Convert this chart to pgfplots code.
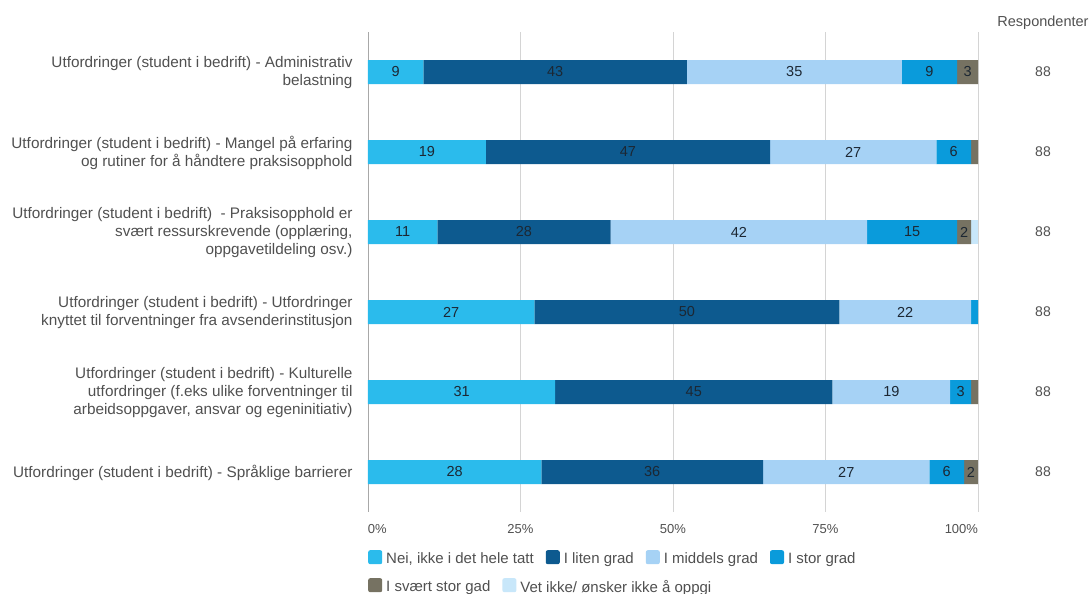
\documentclass[border=0pt]{standalone}
\usepackage{fontspec}
\setmainfont{Liberation Sans}
\usepackage{pgfplots}
\usepackage{pgfplotstable}
\pgfplotsset{compat=1.18}
\definecolor{cNei}{HTML}{2BBBEC}
\definecolor{cLiten}{HTML}{0D5A8F}
\definecolor{cMiddels}{HTML}{A6D2F5}
\definecolor{cStor}{HTML}{0A9BDB}
\definecolor{cSvaert}{HTML}{767262}
\definecolor{cVet}{HTML}{C8E7FA}
\definecolor{txt}{HTML}{505050}
\definecolor{lbl}{HTML}{1C2733}
\definecolor{gridc}{HTML}{D4D4D4}
\definecolor{axc}{HTML}{A8A8A8}

\pgfplotstableread{
row a al b bl c cl d dl e el f fl
0 9.09 9 43.18 43 35.23 35 9.09 9 3.41 3 0 {}
1 19.32 19 46.59 47 27.27 27 5.68 6 1.14 {} 0 {}
2 11.36 11 28.41 28 42.05 42 14.77 15 2.27 2 1.14 {}
3 27.27 27 50.00 50 21.59 22 1.14 {} 0 {} 0 {}
4 30.68 31 45.45 45 19.32 19 3.41 3 1.14 {} 0 {}
5 28.41 28 36.36 36 27.27 27 5.68 6 2.27 2 0 {}
}\datatable

\pgfplotsset{
  seg/.style={fill=#1, draw=none,
    legend image code/.code={\fill[fill=#1,draw=none,rounded corners=2pt] (0pt,-5.5pt) rectangle (14pt,8.5pt);}},
  lab/.style={nodes near coords, point meta=explicit symbolic,
    every node near coord/.append style={anchor=center,
      font=\fontsize{14.5}{16}\selectfont, text=lbl}},
  sq/.style={legend image code/.code={\fill[fill=#1,draw=none,rounded corners=2pt] (0pt,-5.5pt) rectangle (14pt,8.5pt);}},
  leg/.style={legend cell align=left,
    legend style={draw=none, at={(0,0)}, anchor=north west, inner sep=0pt, yshift=#1,
    nodes={inner xsep=0pt, inner ysep=1pt},
    font=\fontsize{15}{17}\selectfont, text=txt,
    /tikz/every odd column/.append style={column sep=4pt},
    /tikz/every even column/.append style={column sep=12pt}}},
}

\begin{document}
\begin{tikzpicture}
\useasboundingbox (-368pt,-82pt) rectangle (724pt,512pt);
\begin{axis}[
  at={(0,0)}, anchor=south west,
  scale only axis, width=610pt, height=480pt,
  xbar stacked, bar width=24pt,
  xmin=0, xmax=100, ymin=-0.5, ymax=5.5, y dir=reverse,
  axis lines*=left,
  x axis line style={draw=none},
  y axis line style={draw=axc, line width=0.9pt},
  major tick length=0pt,
  xtick={0,25,50,75,100},
  xticklabels={\makebox[0pt][l]{0\%},25\%,50\%,75\%,\makebox[0pt][r]{100\%}},
  xticklabel style={anchor=base, yshift=-21pt, font=\fontsize{13}{15}\selectfont, text=txt},
  xmajorgrids, major grid style={draw=gridc, line width=0.9pt},
  ytick={0,...,5},
  yticklabels={
    {Utfordringer (student i bedrift) - Administrativ\\belastning},
    {Utfordringer (student i bedrift) - Mangel på erfaring\\og rutiner for å håndtere praksisopphold},
    {Utfordringer (student i bedrift)\ \ - Praksisopphold er\\svært ressurskrevende (opplæring,\\oppgavetildeling osv.)},
    {Utfordringer (student i bedrift) - Utfordringer\\knyttet til forventninger fra avsenderinstitusjon},
    {Utfordringer (student i bedrift) - Kulturelle\\utfordringer (f.eks ulike forventninger til\\arbeidsoppgaver, ansvar og egeninitiativ)},
    {Utfordringer (student i bedrift) - Språklige barrierer}},
  yticklabel style={align=right, anchor=east, xshift=-12pt, yshift=-1pt, font=\fontsize{15.3}{18}\selectfont, text=txt},
  legend columns=4,
  leg=-38pt,
]
\addplot+[seg=cNei, lab] table[x=a, y=row, meta=al] {\datatable};
\addlegendentry{Nei, ikke i det hele tatt}
\addplot+[seg=cLiten, lab] table[x=b, y=row, meta=bl] {\datatable};
\addlegendentry{I liten grad}
\addplot+[seg=cMiddels, lab] table[x=c, y=row, meta=cl] {\datatable};
\addlegendentry{I middels grad}
\addplot+[seg=cStor, lab] table[x=d, y=row, meta=dl] {\datatable};
\addlegendentry{I stor grad}
\addplot+[seg=cSvaert, lab, forget plot] table[x=e, y=row, meta=el] {\datatable};
\addplot+[seg=cVet, lab, forget plot] table[x=f, y=row, meta=fl] {\datatable};
\end{axis}

\begin{axis}[
  at={(0,0)}, anchor=south west,
  scale only axis, width=610pt, height=480pt,
  xmin=0, xmax=100, ymin=-0.5, ymax=5.5, y dir=reverse,
  clip=false,
  axis x line=none, axis y line*=right,
  y axis line style={draw=none},
  major tick length=0pt,
  ytick={0,...,5},
  yticklabels={88,88,88,88,88,88},
  yticklabel style={anchor=center, xshift=65pt, font=\fontsize{14}{16}\selectfont, text=txt},
  legend columns=2,
  leg=-66pt,
]
\addlegendimage{sq=cSvaert}
\addlegendentry{I svært stor gad}
\addlegendimage{sq=cVet}
\addlegendentry{Vet ikke/ ønsker ikke å oppgi}
\node[font=\fontsize{14.5}{16}\selectfont, text=txt, anchor=base] at ([xshift=65pt,yshift=6pt]rel axis cs:1,1) {Respondenter};
\end{axis}
\end{tikzpicture}
\end{document}
